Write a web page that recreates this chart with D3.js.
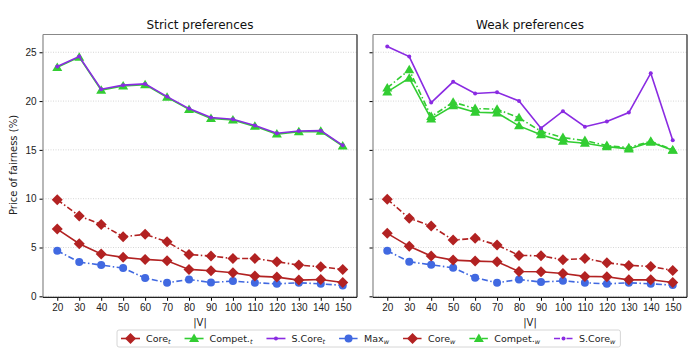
<!DOCTYPE html>
<html>
<head>
<meta charset="utf-8">
<script src="https://cdn.jsdelivr.net/npm/d3@7"></script>
<style>
body { margin: 0; background: #fff; }
svg { font-family: "DejaVu Sans", sans-serif; }
</style>
</head>
<body>
<div id="chart"></div>
<script>
// |V| values along the x axis
var sizes = [20, 30, 40, 50, 60, 70, 80, 90, 100, 110, 120, 130, 140, 150];
var yTicks = [0, 5, 10, 15, 20, 25];

// strict preferences panel
var strictCore = [6.89, 5.39, 4.33, 3.99, 3.78, 3.64, 2.76, 2.62, 2.41, 2.07, 1.97, 1.66, 1.73, 1.42];
var strictCoreW = [9.9, 8.23, 7.37, 6.1, 6.35, 5.59, 4.29, 4.12, 3.88, 3.88, 3.54, 3.2, 3.03, 2.76];
var strictMax = [4.67, 3.51, 3.2, 2.89, 1.87, 1.39, 1.73, 1.42, 1.56, 1.39, 1.28, 1.39, 1.28, 1.12];
var strictCompet = [23.45, 24.5, 21.12, 21.55, 21.68, 20.38, 19.15, 18.22, 18.06, 17.41, 16.62, 16.86, 16.9, 15.4];
var strictSCore = [23.54, 24.56, 21.22, 21.63, 21.76, 20.46, 19.23, 18.31, 18.14, 17.49, 16.7, 16.94, 16.97, 15.47];

// weak preferences panel
var weakCoreT = [6.45, 5.12, 4.12, 3.71, 3.61, 3.54, 2.55, 2.51, 2.34, 2.04, 2.0, 1.69, 1.69, 1.42];
var weakCore = [9.94, 7.99, 7.2, 5.76, 5.94, 5.25, 4.19, 4.15, 3.74, 3.88, 3.44, 3.17, 3.06, 2.65];
var weakMax = [4.67, 3.54, 3.23, 2.92, 1.9, 1.39, 1.73, 1.46, 1.59, 1.39, 1.28, 1.39, 1.28, 1.15];
var weakCompetT = [20.94, 22.35, 18.17, 19.51, 18.86, 18.79, 17.46, 16.56, 15.89, 15.68, 15.33, 15.1, 15.79, 14.96];
var weakCompet = [21.35, 23.2, 18.41, 19.89, 19.23, 19.17, 18.28, 16.91, 16.26, 15.95, 15.44, 15.23, 15.89, 15.0];
var weakSCore = [25.6, 24.56, 19.85, 21.97, 20.77, 20.91, 20.02, 17.22, 18.96, 17.38, 17.9, 18.82, 22.86, 15.99];

var red = "#b22222", green = "#32cd32", purple = "#8a2be2", blue = "#4169e1";
var dashDot = "6,2.5,1.5,2.5";

var W = 700, H = 350;
var svg = d3.select("#chart").append("svg").attr("width", W).attr("height", H);

var y = d3.scaleLinear().domain([-0.1, 26.82]).range([297.3, 34.5]);

var panels = [
  { title: "Strict preferences", x0: 43, x1: 357, labels: true, series: [
    { v: strictMax, c: blue, m: "circle", d: dashDot },
    { v: strictCore, c: red, m: "diamond", d: null },
    { v: strictCoreW, c: red, m: "diamond", d: dashDot },
    { v: strictCompet, c: green, m: "triangle", d: null },
    { v: strictSCore, c: purple, m: "dot", d: null }
  ]},
  { title: "Weak preferences", x0: 373, x1: 687, labels: false, series: [
    { v: weakMax, c: blue, m: "circle", d: dashDot },
    { v: weakCoreT, c: red, m: "diamond", d: null },
    { v: weakCore, c: red, m: "diamond", d: dashDot },
    { v: weakCompetT, c: green, m: "triangle", d: null },
    { v: weakCompet, c: green, m: "triangle", d: dashDot },
    { v: weakSCore, c: purple, m: "dot", d: null }
  ]}
];

function marker(g, type, color, cx, cy) {
  if (type == "circle") {
    g.append("circle").attr("cx", cx).attr("cy", cy).attr("r", 4).attr("fill", color);
  } else if (type == "dot") {
    g.append("circle").attr("cx", cx).attr("cy", cy).attr("r", 2).attr("fill", color);
  } else if (type == "diamond") {
    g.append("path").attr("fill", color)
      .attr("d", "M" + cx + "," + (cy - 5.5) + "L" + (cx + 5.5) + "," + cy + "L" + cx + "," + (cy + 5.5) + "L" + (cx - 5.5) + "," + cy + "Z");
  } else {
    g.append("path").attr("fill", color)
      .attr("d", "M" + cx + "," + (cy - 5) + "L" + (cx + 5) + "," + (cy + 3.5) + "L" + (cx - 5) + "," + (cy + 3.5) + "Z");
  }
}

panels.forEach(function(p) {
  var x = d3.scaleLinear().domain([13.5, 156.5]).range([p.x0, p.x1]);
  var g = svg.append("g");

  // dotted grid
  g.selectAll(".grid").data(yTicks).enter().append("line")
    .attr("x1", p.x0).attr("x2", p.x1)
    .attr("y1", d => y(d)).attr("y2", d => y(d))
    .attr("stroke", "#ccc").attr("stroke-width", 0.8).attr("stroke-dasharray", "1,1.5");

  var xAxis = g.append("g").attr("transform", "translate(0," + y.range()[0] + ")")
    .call(d3.axisBottom(x).tickValues(sizes).tickSize(3.5).tickPadding(3).tickSizeOuter(0));
  xAxis.select(".domain").remove();
  xAxis.selectAll("text").attr("font-size", 10).attr("fill", "#222");

  var yAxis = g.append("g").attr("transform", "translate(" + p.x0 + ",0)")
    .call(d3.axisLeft(y).tickValues(yTicks).tickSize(3.5).tickPadding(3).tickSizeOuter(0));
  yAxis.select(".domain").remove();
  yAxis.selectAll("text").attr("font-size", 10).attr("fill", "#222");
  if (!p.labels) yAxis.selectAll("text").remove();

  var line = d3.line().x((d, i) => x(sizes[i])).y(d => y(d));
  p.series.forEach(function(s) {
    g.append("path").datum(s.v).attr("d", line)
      .attr("fill", "none").attr("stroke", s.c).attr("stroke-width", 1.6)
      .attr("stroke-dasharray", s.d);
    var mg = g.append("g");
    s.v.forEach(function(v, i) { marker(mg, s.m, s.c, x(sizes[i]), y(v)); });
  });

  // frame
  var top = y.range()[1], bot = y.range()[0];
  g.append("line").attr("x1", p.x0).attr("x2", p.x1).attr("y1", top).attr("y2", top).attr("stroke", "#888").attr("stroke-width", 1.2);
  g.append("line").attr("x1", p.x0).attr("x2", p.x0).attr("y1", top).attr("y2", bot).attr("stroke", "#888").attr("stroke-width", 1.2);
  g.append("line").attr("x1", p.x0).attr("x2", p.x1).attr("y1", bot).attr("y2", bot).attr("stroke", "#222").attr("stroke-width", 1.2);
  g.append("line").attr("x1", p.x1).attr("x2", p.x1).attr("y1", top).attr("y2", bot).attr("stroke", "#222").attr("stroke-width", 1.2);

  g.append("text").attr("x", (p.x0 + p.x1) / 2).attr("y", 29).attr("text-anchor", "middle")
    .attr("font-size", 12).attr("fill", "#111").text(p.title);
  g.append("text").attr("x", (p.x0 + p.x1) / 2).attr("y", 326).attr("text-anchor", "middle")
    .attr("font-size", 10).attr("fill", "#222").text("|V|");
});

svg.append("text").attr("transform", "translate(17,165) rotate(-90)").attr("text-anchor", "middle")
  .attr("font-size", 10).attr("fill", "#222").text("Price of fairness (%)");

// legend
var legendNames = ["Core", "Compet.", "S.Core", "Max", "Core", "Compet.", "S.Core"];
var legendSubs = ["t", "t", "t", "w", "w", "w", "w"];
var legendColors = [red, green, purple, blue, red, green, purple];
var legendMarks = ["diamond", "triangle", "dot", "circle", "diamond", "triangle", "dot"];
var legendDash = [null, null, null, dashDot, dashDot, dashDot, dashDot];

var lg = svg.append("g");
var box = lg.append("rect").attr("y", 330).attr("height", 17).attr("rx", 2)
  .attr("fill", "#fff").attr("stroke", "#ccc").attr("stroke-width", 0.8);
var lx = 121;
legendNames.forEach(function(n, i) {
  lg.append("line").attr("x1", lx).attr("x2", lx + 19).attr("y1", 338.5).attr("y2", 338.5)
    .attr("stroke", legendColors[i]).attr("stroke-width", 1.6).attr("stroke-dasharray", legendDash[i]);
  marker(lg, legendMarks[i], legendColors[i], lx + 9.5, 338.5);
  var t = lg.append("text").attr("x", lx + 25).attr("y", 342).attr("font-size", 9.5).attr("fill", "#222");
  t.append("tspan").text(n);
  t.append("tspan").attr("font-size", 6.5).attr("font-style", "italic").attr("dy", 2).text(legendSubs[i]);
  lx += 25 + t.node().getComputedTextLength() + 14;
});
box.attr("x", 117).attr("width", lx - 14 + 5 - 117);
</script>
</body>
</html>
